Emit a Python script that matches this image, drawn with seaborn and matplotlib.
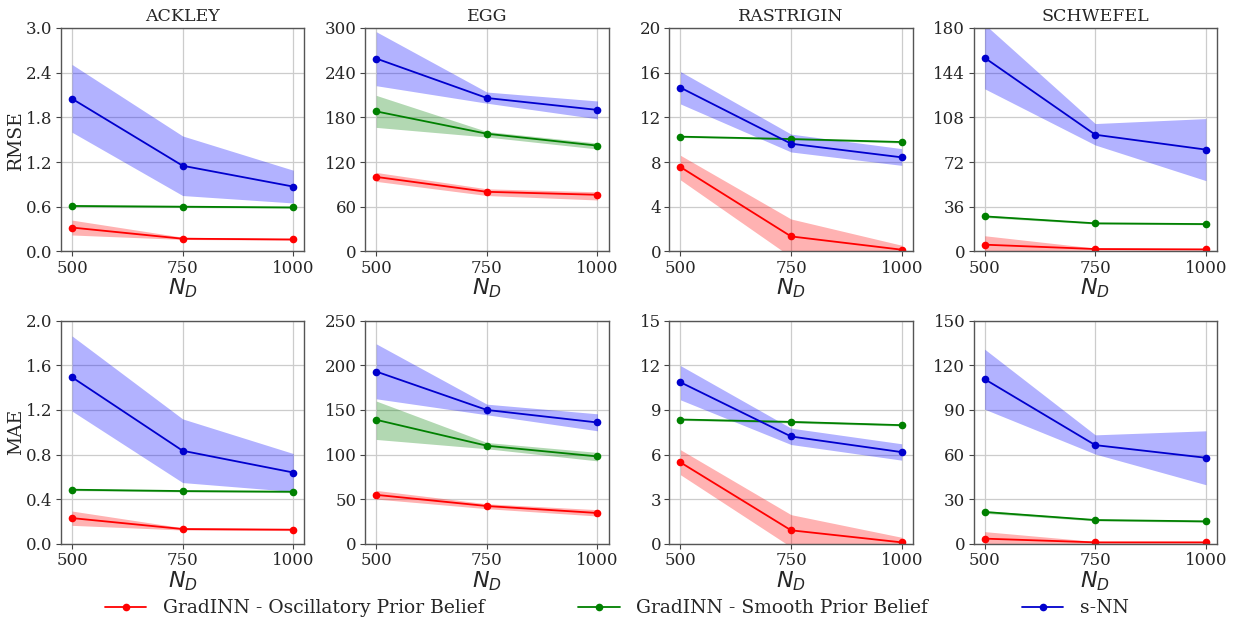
import numpy as np
import pandas as pd
import matplotlib
matplotlib.use("Agg")
import matplotlib.pyplot as plt
from matplotlib.ticker import FormatStrFormatter
import seaborn as sns

# ---------------- data ----------------
N_D = [500, 750, 1000]
functions = ["ACKLEY", "EGG", "RASTRIGIN", "SCHWEFEL"]
methods = ["GradINN - Oscillatory Prior Belief", "GradINN - Smooth Prior Belief", "s-NN"]
metrics = ["RMSE", "MAE"]

rmse_ymax = [3.0, 300, 20, 180]
mae_ymax = [2.0, 250, 15, 150]

# RMSE (rows: ACKLEY, EGG, RASTRIGIN, SCHWEFEL)
rmse_osc_mean = [[0.32, 0.17, 0.16], [100, 80, 76], [7.55, 1.34, 0.15], [5.4, 1.9, 1.6]]
rmse_osc_lo = [[0.22, 0.16, 0.15], [94, 75, 69], [6.4, -0.5, 0.0], [0.5, 1.0, 1.0]]
rmse_osc_hi = [[0.42, 0.19, 0.17], [106, 84, 80], [8.6, 2.9, 0.55], [12.6, 2.6, 2.2]]

rmse_smooth_mean = [[0.61, 0.60, 0.59], [188, 158, 142], [10.27, 10.06, 9.79], [28.2, 22.6, 22.0]]
rmse_smooth_lo = [[0.60, 0.59, 0.58], [166.5, 153.6, 137.5], [10.2, 10.0, 9.7], [27.3, 22.0, 21.4]]
rmse_smooth_hi = [[0.62, 0.61, 0.60], [209.5, 161, 145.5], [10.35, 10.12, 9.88], [29.2, 23.2, 22.6]]

rmse_snn_mean = [[2.05, 1.15, 0.87], [259, 206, 190], [14.66, 9.64, 8.42], [156, 94, 82]]
rmse_snn_lo = [[1.60, 0.75, 0.65], [222.5, 199, 178], [13.2, 8.9, 7.7], [131, 85.7, 57]]
rmse_snn_hi = [[2.51, 1.55, 1.09], [295, 214, 202], [16.1, 10.5, 9.2], [183, 103, 107]]

# MAE
mae_osc_mean = [[0.232, 0.134, 0.128], [55, 42.5, 34.7], [5.48, 0.92, 0.11], [3.6, 1.1, 1.1]]
mae_osc_lo = [[0.167, 0.125, 0.12], [50.3, 39.5, 31.3], [4.65, -0.2, 0.0], [0.3, 0.5, 0.6]]
mae_osc_hi = [[0.295, 0.145, 0.136], [60, 45, 38.4], [6.33, 1.97, 0.45], [8.3, 1.7, 1.5]]

mae_smooth_mean = [[0.486, 0.474, 0.468], [139, 110, 98], [8.36, 8.2, 7.98], [21.5, 16.1, 15.2]]
mae_smooth_lo = [[0.478, 0.466, 0.46], [117, 106.6, 93], [8.3, 8.13, 7.92], [20.6, 15.5, 14.6]]
mae_smooth_hi = [[0.494, 0.482, 0.476], [160, 113.6, 102.5], [8.42, 8.27, 8.05], [22.4, 16.7, 15.8]]

mae_snn_mean = [[1.493, 0.835, 0.64], [193, 150, 136], [10.86, 7.22, 6.17], [110.7, 66.4, 57.9]]
mae_snn_lo = [[1.19, 0.55, 0.47], [162.5, 144.6, 126.7], [9.68, 6.68, 5.63], [90.5, 60.4, 39.8]]
mae_snn_hi = [[1.863, 1.12, 0.81], [224, 156.5, 145.7], [11.98, 7.78, 6.73], [130.8, 73.3, 76]]

# ---------------- build table ----------------
rows = []
tables = {
    "RMSE": [(rmse_osc_mean, rmse_osc_lo, rmse_osc_hi),
             (rmse_smooth_mean, rmse_smooth_lo, rmse_smooth_hi),
             (rmse_snn_mean, rmse_snn_lo, rmse_snn_hi)],
    "MAE": [(mae_osc_mean, mae_osc_lo, mae_osc_hi),
            (mae_smooth_mean, mae_smooth_lo, mae_smooth_hi),
            (mae_snn_mean, mae_snn_lo, mae_snn_hi)],
}
for metric in metrics:
    for mi, method in enumerate(methods):
        m, lo, hi = tables[metric][mi]
        for fi, fn in enumerate(functions):
            for k, nd in enumerate(N_D):
                rows.append(dict(metric=metric, method=method, function=fn, N_D=nd,
                                 value=m[fi][k], lo=lo[fi][k], hi=hi[fi][k]))
df = pd.DataFrame(rows)

# ---------------- style ----------------
sns.set_style("ticks")
plt.rcParams["font.family"] = ["DejaVu Serif"]
plt.rcParams["mathtext.fontset"] = "dejavusans"

line_colors = {methods[0]: "red", methods[1]: "green", methods[2]: "mediumblue"}
fill_colors = {methods[0]: "red", methods[1]: "green", methods[2]: "blue"}

fig, axes = plt.subplots(2, 4, figsize=(12.34, 6.25), dpi=100)
fig.subplots_adjust(left=0.0494, right=0.9862, top=0.9552, bottom=0.1296,
                    wspace=0.25, hspace=0.31)

for r, metric in enumerate(metrics):
    ymaxes = rmse_ymax if metric == "RMSE" else mae_ymax
    for c, fn in enumerate(functions):
        ax = axes[r, c]
        sub = df[(df.metric == metric) & (df.function == fn)]
        for method in methods:
            s = sub[sub.method == method]
            ax.fill_between(s.N_D, s.lo, s.hi, color=fill_colors[method],
                            alpha=0.3, linewidth=0)
        sns.lineplot(data=sub, x="N_D", y="value", hue="method", hue_order=methods,
                     palette=line_colors, marker="o", markersize=5.5,
                     markeredgewidth=0, linewidth=1.3, estimator=None,
                     ax=ax, legend=(r == 0 and c == 0))
        ax.set_ylim(0, ymaxes[c])
        ax.set_yticks(np.linspace(0, ymaxes[c], 6))
        ax.set_xticks(N_D)
        ax.set_xlim(475, 1025)
        if c == 0:
            ax.yaxis.set_major_formatter(FormatStrFormatter("%.1f"))
        else:
            ax.yaxis.set_major_formatter(FormatStrFormatter("%d"))
        ax.grid(True, color="#cccccc", linewidth=0.9)
        ax.tick_params(labelsize=12, length=3.5, color="#444444", pad=2.5)
        for sp in ax.spines.values():
            sp.set_color("#555555")
            sp.set_linewidth(1.0)
        ax.set_xlabel("$N_D$", fontsize=16, labelpad=0)
        if c == 0:
            ax.set_ylabel(metric, fontsize=13.5, labelpad=1)
        else:
            ax.set_ylabel("")
        if r == 0:
            ax.set_title(fn, fontsize=12.5, pad=5)

handles, labels = axes[0, 0].get_legend_handles_labels()
axes[0, 0].get_legend().remove()
fig.legend(handles, labels, loc="center", bbox_to_anchor=(0.5, 0.027), ncol=3,
           frameon=False, fontsize=13.5, columnspacing=5.0, handlelength=2.2,
           handletextpad=0.9)

fig.savefig("out.png", dpi=100)
